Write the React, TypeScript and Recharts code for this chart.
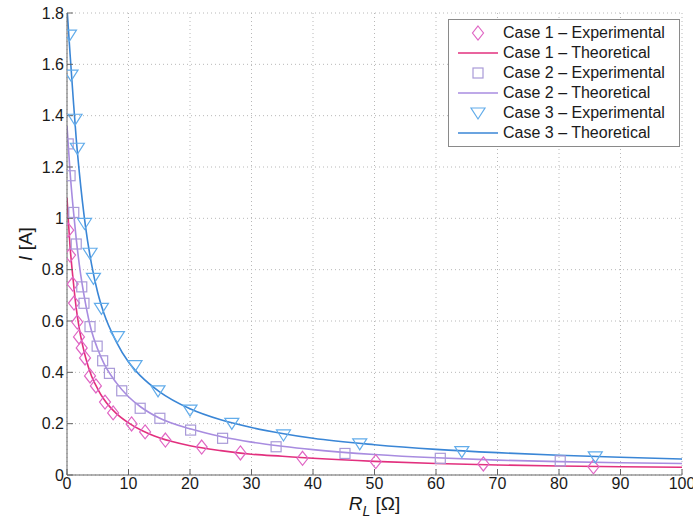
import { ComposedChart, Scatter, Line, XAxis, YAxis, CartesianGrid, Legend, Label } from 'recharts';

// load resistance ticks (ohm) and current ticks (A)
const rTicks = [0, 10, 20, 30, 40, 50, 60, 70, 80, 90, 100];
const iTicks = [0, 0.2, 0.4, 0.6, 0.8, 1, 1.2, 1.4, 1.6, 1.8];

// measured points
const case1ExpR = [0.2, 0.5, 0.93, 1.14, 1.67, 1.95, 2.39, 2.93, 3.74, 4.7, 6.18, 7.5, 10.5, 12.7, 16, 21.9, 28.2, 38.3, 50.2, 67.7, 85.6];
const case1ExpI = [0.954, 0.857, 0.744, 0.67, 0.596, 0.538, 0.495, 0.456, 0.386, 0.347, 0.284, 0.242, 0.199, 0.168, 0.136, 0.109, 0.086, 0.065, 0.052, 0.043, 0.032];

const case2ExpR = [0.2, 0.5, 1.1, 1.5, 2.4, 2.76, 3.74, 4.9, 5.8, 6.9, 8.9, 11.9, 15.1, 20.1, 25.3, 34, 45.2, 60.7, 80.2];
const case2ExpI = [1.29, 1.166, 1.023, 0.9, 0.733, 0.669, 0.578, 0.502, 0.445, 0.396, 0.328, 0.26, 0.221, 0.175, 0.143, 0.11, 0.084, 0.065, 0.055];

const case3ExpR = [0.4, 0.65, 1.3, 1.68, 2.85, 3.74, 4.3, 5.6, 8.2, 11.06, 14.8, 20, 26.8, 35.2, 47.6, 64.2, 85.9];
const case3ExpI = [1.714, 1.558, 1.386, 1.273, 0.98, 0.864, 0.766, 0.649, 0.539, 0.426, 0.328, 0.253, 0.201, 0.156, 0.121, 0.091, 0.071];

// theoretical curves, sampled at these resistances
const theoryR = [0, 0.5, 1, 1.5, 2, 3, 4, 5, 6, 8, 10, 12, 15, 20, 25, 30, 35, 40, 50, 60, 70, 80, 90, 100];
const case1TheoryI = [1.08, 0.89, 0.76, 0.65, 0.57, 0.46, 0.385, 0.335, 0.295, 0.24, 0.203, 0.175, 0.145, 0.114, 0.095, 0.081, 0.073, 0.065, 0.053, 0.045, 0.039, 0.035, 0.032, 0.03];
const case2TheoryI = [1.36, 1.18, 1.04, 0.92, 0.82, 0.67, 0.56, 0.49, 0.435, 0.36, 0.305, 0.265, 0.222, 0.18, 0.15, 0.128, 0.112, 0.099, 0.08, 0.067, 0.058, 0.052, 0.048, 0.045];
const case3TheoryI = [1.82, 1.64, 1.47, 1.31, 1.18, 0.97, 0.82, 0.71, 0.63, 0.52, 0.44, 0.385, 0.325, 0.258, 0.215, 0.185, 0.162, 0.143, 0.118, 0.1, 0.087, 0.077, 0.069, 0.062];

const toPoints = (r: number[], i: number[]) => r.map((v, k) => ({ r: v, i: i[k] }));

const C1_MARK = '#e066c4';
const C1_LINE = '#e2307e';
const C2_MARK = '#a99ad8';
const C2_LINE = '#a88ce0';
const C3_MARK = '#62acea';
const C3_LINE = '#3a86d6';

const FONT = '"Liberation Sans", Arial, Helvetica, sans-serif';

function Diamond({ cx, cy, stroke }: any) {
  return <path d={`M${cx},${cy - 7}L${cx + 5.5},${cy}L${cx},${cy + 7}L${cx - 5.5},${cy}Z`} fill="none" stroke={stroke} strokeWidth={1.2} />;
}
function Square({ cx, cy, stroke }: any) {
  return <rect x={cx - 5} y={cy - 5} width={10} height={10} fill="none" stroke={stroke} strokeWidth={1.2} />;
}
function TriDown({ cx, cy, stroke }: any) {
  return <path d={`M${cx - 7},${cy - 5}L${cx + 7},${cy - 5}L${cx},${cy + 6}Z`} fill="none" stroke={stroke} strokeWidth={1.2} />;
}

const legendItems = [
  { label: 'Case 1 \u2013 Experimental', kind: 'diamond', color: C1_MARK },
  { label: 'Case 1 \u2013 Theoretical', kind: 'line', color: C1_LINE },
  { label: 'Case 2 \u2013 Experimental', kind: 'square', color: C2_MARK },
  { label: 'Case 2 \u2013 Theoretical', kind: 'line', color: C2_LINE },
  { label: 'Case 3 \u2013 Experimental', kind: 'tri', color: C3_MARK },
  { label: 'Case 3 \u2013 Theoretical', kind: 'line', color: C3_LINE },
];

function LegendBox() {
  return (
    <div style={{ border: '1px solid #8a8a8a', background: '#fff', padding: '3px 0 3px 0', fontFamily: FONT, fontSize: 16, color: '#1a1a1a' }}>
      {legendItems.map((it) => (
        <div key={it.label} style={{ display: 'flex', alignItems: 'center', height: 20 }}>
          <svg width={54} height={20} style={{ flex: 'none' }}>
            {it.kind === 'line' && <line x1={9} y1={10} x2={49} y2={10} stroke={it.color} strokeWidth={1.5} />}
            {it.kind === 'diamond' && <Diamond cx={29} cy={10} stroke={it.color} />}
            {it.kind === 'square' && <Square cx={29} cy={10} stroke={it.color} />}
            {it.kind === 'tri' && <TriDown cx={29} cy={10} stroke={it.color} />}
          </svg>
          <span style={{ whiteSpace: 'nowrap' }}>{it.label}</span>
        </div>
      ))}
    </div>
  );
}

function XTitle({ viewBox }: any) {
  const cx = viewBox.x + viewBox.width / 2;
  const y = viewBox.y + 35;
  return (
    <text x={cx} y={y} textAnchor="middle" fontFamily={FONT} fontSize={19} fill="#1a1a1a">
      <tspan fontStyle="italic">R</tspan>
      <tspan fontStyle="italic" fontSize={14} dy={6}>L</tspan>
      <tspan dy={-6}> [Ω]</tspan>
    </text>
  );
}

function YTitle({ viewBox }: any) {
  const x = 25;
  const y = viewBox.y + viewBox.height / 2;
  return (
    <text x={x} y={y} transform={`rotate(-90 ${x} ${y})`} textAnchor="middle" dominantBaseline="central" fontFamily={FONT} fontSize={19} fill="#1a1a1a">
      <tspan fontStyle="italic">I</tspan>
      <tspan> [A]</tspan>
    </text>
  );
}

export default function App() {
  const tickStyle = { fontFamily: FONT, fontSize: 16, fill: '#1a1a1a' };
  return (
    <div style={{ position: 'absolute', left: 0, top: 0, width: 693, height: 522, background: '#fff' }}>
      <ComposedChart width={693} height={522} margin={{ top: 13, right: 11, bottom: 0, left: 0 }}>
        <CartesianGrid stroke="#b8b8b8" strokeDasharray="1 3" />
        <XAxis
          dataKey="r"
          type="number"
          domain={[0, 100]}
          ticks={rTicks}
          allowDataOverflow
          height={47}
          stroke="#666"
          tickSize={-6}
          tickMargin={9}
          tick={tickStyle}
          interval={0}
        >
          <Label content={<XTitle />} />
        </XAxis>
        <XAxis xAxisId="top" orientation="top" type="number" domain={[0, 100]} ticks={rTicks} allowDataOverflow height={0} stroke="#666" tickSize={-6} tick={false} />
        <YAxis
          dataKey="i"
          type="number"
          domain={[0, 1.8]}
          ticks={iTicks}
          allowDataOverflow
          width={67}
          stroke="#666"
          tickSize={-6}
          tickMargin={9}
          tick={tickStyle}
          interval={0}
        >
          <Label content={<YTitle />} />
        </YAxis>
        <YAxis yAxisId="right" orientation="right" type="number" domain={[0, 1.8]} ticks={iTicks} allowDataOverflow width={0} stroke="#666" tickSize={-6} tick={false} />

        <Line data={toPoints(theoryR, case1TheoryI)} dataKey="i" type="monotone" stroke={C1_LINE} strokeWidth={1.6} dot={false} isAnimationActive={false} />
        <Line data={toPoints(theoryR, case2TheoryI)} dataKey="i" type="monotone" stroke={C2_LINE} strokeWidth={1.6} dot={false} isAnimationActive={false} />
        <Line data={toPoints(theoryR, case3TheoryI)} dataKey="i" type="monotone" stroke={C3_LINE} strokeWidth={1.6} dot={false} isAnimationActive={false} />

        <Scatter data={toPoints(case1ExpR, case1ExpI)} shape={(p: any) => <Diamond cx={p.cx} cy={p.cy} stroke={C1_MARK} />} isAnimationActive={false} />
        <Scatter data={toPoints(case2ExpR, case2ExpI)} shape={(p: any) => <Square cx={p.cx} cy={p.cy} stroke={C2_MARK} />} isAnimationActive={false} />
        <Scatter data={toPoints(case3ExpR, case3ExpI)} shape={(p: any) => <TriDown cx={p.cx} cy={p.cy} stroke={C3_MARK} />} isAnimationActive={false} />

        <Legend
          layout="vertical"
          align="center"
          verticalAlign="middle"
          content={() => <LegendBox />}
          wrapperStyle={{ position: 'absolute', top: 19, left: 448, width: 232 }}
        />
      </ComposedChart>
    </div>
  );
}
